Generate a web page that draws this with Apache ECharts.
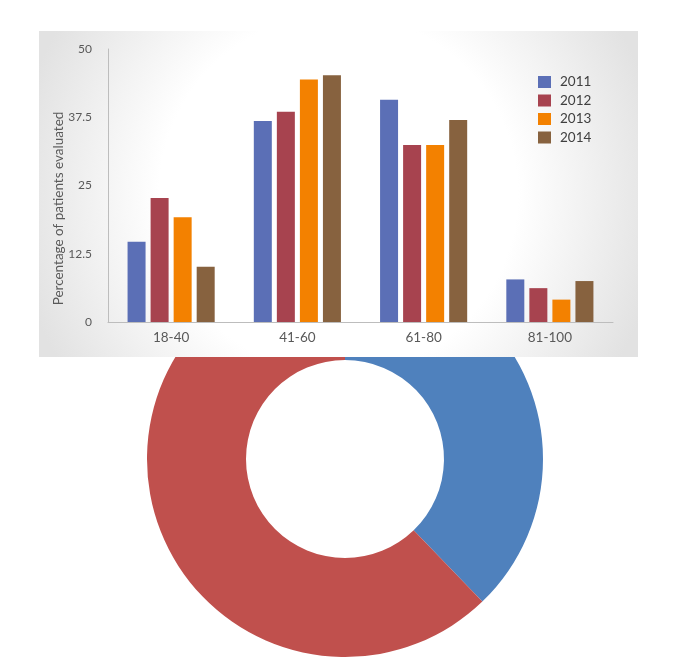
<!DOCTYPE html>
<html>
<head>
<meta charset="utf-8">
<script src="https://cdn.jsdelivr.net/npm/echarts@6/dist/echarts.min.js"></script>
<style>
html,body{margin:0;padding:0;background:#fff;}
#c{width:677px;height:672px;}
</style>
</head>
<body>
<div id="c"></div>
<script>
var categories = ['18-40', '41-60', '61-80', '81-100'];
var years = ['2011', '2012', '2013', '2014'];
var v2011 = [14.7, 36.8, 40.7, 7.8];
var v2012 = [22.7, 38.5, 32.4, 6.2];
var v2013 = [19.2, 44.4, 32.4, 4.1];
var v2014 = [10.1, 45.2, 37.0, 7.5];
var yTicks = ['0', '12.5', '25', '37.5', '50'];
var donutNames = ['A', 'B'];
var donutValues = [37.8, 62.2];

var barColors = ['#5b6fb6', '#a7434f', '#f38100', '#87623f'];
var donutColors = ['#4f81bd', '#c0504d'];
var font = 'Lato, "DejaVu Sans", sans-serif';
var seriesVals = [v2011, v2012, v2013, v2014];

var chart = echarts.init(document.getElementById('c'));
var series = [{
  type: 'pie',
  z: 1,
  center: [345, 459],
  radius: [99, 198],
  startAngle: 90,
  silent: true,
  label: {show: false},
  labelLine: {show: false},
  data: donutNames.map(function (n, i) {
    return {name: n, value: donutValues[i], itemStyle: {color: donutColors[i]}};
  })
}];
years.forEach(function (y, i) {
  series.push({
    type: 'bar',
    name: y,
    z: 6,
    barWidth: 18,
    barGap: '28%',
    itemStyle: {color: barColors[i]},
    data: seriesVals[i]
  });
});

chart.setOption({
  animation: false,
  backgroundColor: '#ffffff',
  graphic: [{
    type: 'rect',
    z: 3,
    shape: {x: 39, y: 31, width: 599, height: 326},
    style: {
      fill: new echarts.graphic.RadialGradient(0.5, 0.5, 1.0, [
        {offset: 0, color: '#ffffff'},
        {offset: 0.55, color: '#ffffff'},
        {offset: 1, color: '#e2e2e2'}
      ])
    }
  }],
  legend: {
    z: 7,
    data: years,
    orient: 'vertical',
    left: 533,
    top: 70,
    itemWidth: 13,
    itemHeight: 12,
    itemGap: 4.5,
    icon: 'rect',
    textStyle: {fontFamily: font, fontSize: 13.5, color: '#404040', padding: [0, 0, 0, 4]}
  },
  grid: {left: 108, right: 64, top: 49, bottom: 350, z: 5},
  xAxis: {
    type: 'category',
    z: 5,
    data: categories,
    axisLine: {lineStyle: {color: '#bdbdbd', width: 1}},
    axisTick: {show: false},
    axisLabel: {fontFamily: font, fontSize: 13.5, color: '#595959', margin: 9}
  },
  yAxis: {
    type: 'value',
    z: 5,
    min: 0,
    max: 50,
    interval: 12.5,
    name: 'Percentage of patients evaluated',
    nameLocation: 'middle',
    nameMoveOverlap: false,
    nameGap: 42,
    nameTextStyle: {fontFamily: font, fontSize: 13.5, color: '#595959', padding: [0, 46, 0, 0]},
    axisLine: {show: true, lineStyle: {color: '#bdbdbd', width: 1}},
    axisTick: {show: false},
    splitLine: {show: false},
    axisLabel: {
      fontFamily: font, fontSize: 12, color: '#595959', margin: 16,
      formatter: function (v) { return yTicks[Math.round(v / 12.5)]; }
    }
  },
  series: series
});
</script>
</body>
</html>
